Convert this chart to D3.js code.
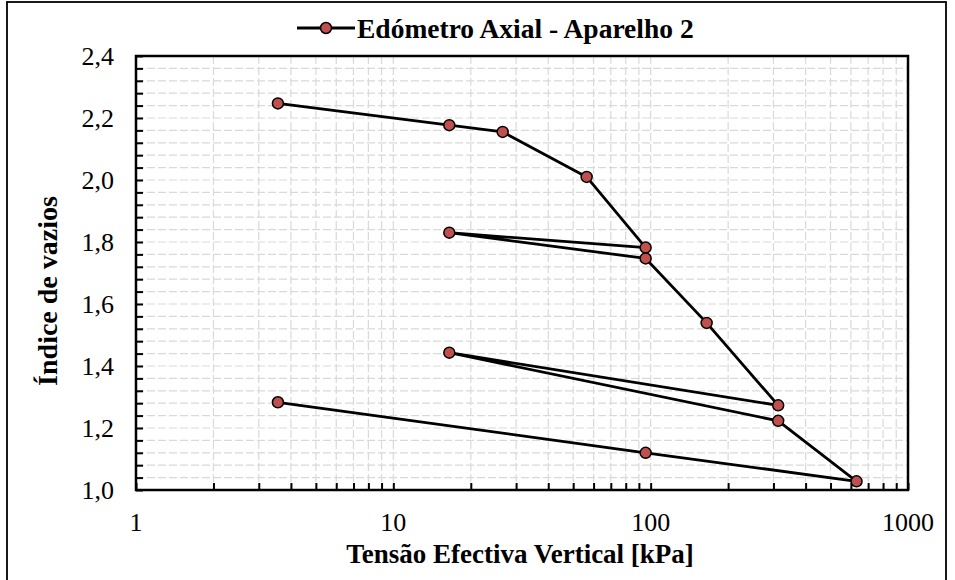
<!DOCTYPE html>
<html>
<head>
<meta charset="utf-8">
<script src="https://cdn.jsdelivr.net/npm/d3@7"></script>
<style>
  html, body { margin: 0; padding: 0; background: #fff; }
  svg { display: block; }
  svg text { font-family: "Liberation Serif", "Times New Roman", Times, "DejaVu Serif", serif; }
</style>
</head>
<body>
<svg id="chart" width="955" height="580"></svg>
<script>
// ---- data ----
const seriesName = "Edómetro Axial - Aparelho 2";
const stress = [3.56, 16.5, 26.6, 56.4, 95.6, 16.5, 95.6, 165, 313, 16.5, 313, 631, 95.6, 3.56];
const voidRatio = [2.247, 2.177, 2.155, 2.010, 1.782, 1.830, 1.747, 1.539, 1.273, 1.443, 1.223, 1.028, 1.120, 1.283];
const xTickValues = [1, 10, 100, 1000];
const yTickValues = [1.0, 1.2, 1.4, 1.6, 1.8, 2.0, 2.2, 2.4];
const xTitle = "Tensão Efectiva Vertical [kPa]";
const yTitle = "Índice de vazios";

const svg = d3.select("#chart");
const m = { left: 136, top: 56, right: 908, bottom: 490 };

const x = d3.scaleLog().domain([1, 1000]).range([m.left, m.right]);
const y = d3.scaleLinear().domain([1.0, 2.4]).range([m.bottom, m.top]);

// outer frame
svg.append("rect").attr("x", 7).attr("y", 2).attr("width", 939).attr("height", 600)
  .attr("fill", "none").attr("stroke", "#000").attr("stroke-width", 1.8);

// minor values
const xMinor = [];
for (let d = 1; d < 1000; d *= 10) for (let k = 1; k <= 9; k++) xMinor.push(d * k);
xMinor.push(1000);
const yMinor = d3.range(0, 36).map(i => +(1.0 + i * 0.04).toFixed(2));

const grid = svg.append("g");
grid.selectAll("line.h").data(yMinor.filter(v => v > 1.0 && v < 2.4)).enter().append("line")
  .attr("x1", m.left).attr("x2", m.right).attr("y1", d => y(d)).attr("y2", d => y(d))
  .attr("stroke", "#d9d9d9").attr("stroke-width", 1.2).attr("stroke-dasharray", "8,3");
grid.selectAll("line.v").data(xMinor.filter(v => v > 1 && v < 1000)).enter().append("line")
  .attr("y1", m.top).attr("y2", m.bottom).attr("x1", d => x(d)).attr("x2", d => x(d))
  .attr("stroke", "#d9d9d9").attr("stroke-width", 1.2).attr("stroke-dasharray", "8,3");

// ticks (inside)
const xAxis = d3.axisTop(x).tickValues(xMinor).tickFormat("").tickSizeOuter(0).tickSize(7);
const gx = svg.append("g").attr("transform", `translate(0,${m.bottom})`).call(xAxis);
gx.select(".domain").remove();
gx.selectAll(".tick line").attr("stroke", "#000").attr("stroke-width", 2);

const yAxis = d3.axisRight(y).tickValues(yMinor).tickFormat("").tickSizeOuter(0).tickSize(7);
const gy = svg.append("g").attr("transform", `translate(${m.left},0)`).call(yAxis);
gy.select(".domain").remove();
gy.selectAll(".tick line").attr("stroke", "#000").attr("stroke-width", 2);

// plot box
svg.append("rect").attr("x", m.left).attr("y", m.top)
  .attr("width", m.right - m.left).attr("height", m.bottom - m.top)
  .attr("fill", "none").attr("stroke", "#000").attr("stroke-width", 2.5);

// tick labels
const fmt = d3.format(".1f");
svg.append("g").selectAll("text").data(xTickValues).enter().append("text")
  .attr("x", d => x(d)).attr("y", 531).attr("text-anchor", "middle")
  .attr("font-size", 26).text(d => d);
svg.append("g").selectAll("text").data(yTickValues).enter().append("text")
  .attr("x", 114).attr("y", d => y(d) + 9).attr("text-anchor", "end")
  .attr("font-size", 26).text(d => fmt(d).replace(".", ","));

// axis titles
svg.append("text").attr("x", 520).attr("y", 563).attr("text-anchor", "middle")
  .attr("font-weight", "bold").attr("font-size", 27).text(xTitle);
svg.append("text").attr("transform", `translate(57,291) rotate(-90)`)
  .attr("text-anchor", "middle")
  .attr("font-weight", "bold").attr("font-size", 28).text(yTitle);

// series
const pts = stress.map((s, i) => [s, voidRatio[i]]);
const line = d3.line().x(d => x(d[0])).y(d => y(d[1]));
svg.append("path").datum(pts).attr("d", line).attr("fill", "none")
  .attr("stroke", "#000").attr("stroke-width", 2.8).attr("stroke-linejoin", "round");
svg.append("g").selectAll("circle").data(pts).enter().append("circle")
  .attr("cx", d => x(d[0])).attr("cy", d => y(d[1])).attr("r", 5.5)
  .attr("fill", "#c0504d").attr("stroke", "#000").attr("stroke-width", 1.5);

// legend
const lg = svg.append("g");
lg.append("line").attr("x1", 297).attr("x2", 355).attr("y1", 28).attr("y2", 28)
  .attr("stroke", "#000").attr("stroke-width", 2.8);
lg.append("circle").attr("cx", 326).attr("cy", 28).attr("r", 5.5)
  .attr("fill", "#c0504d").attr("stroke", "#000").attr("stroke-width", 1.5);
lg.append("text").attr("x", 357).attr("y", 37.5)
  .attr("font-weight", "bold").attr("font-size", 27.5).text(seriesName);
</script>
</body>
</html>
